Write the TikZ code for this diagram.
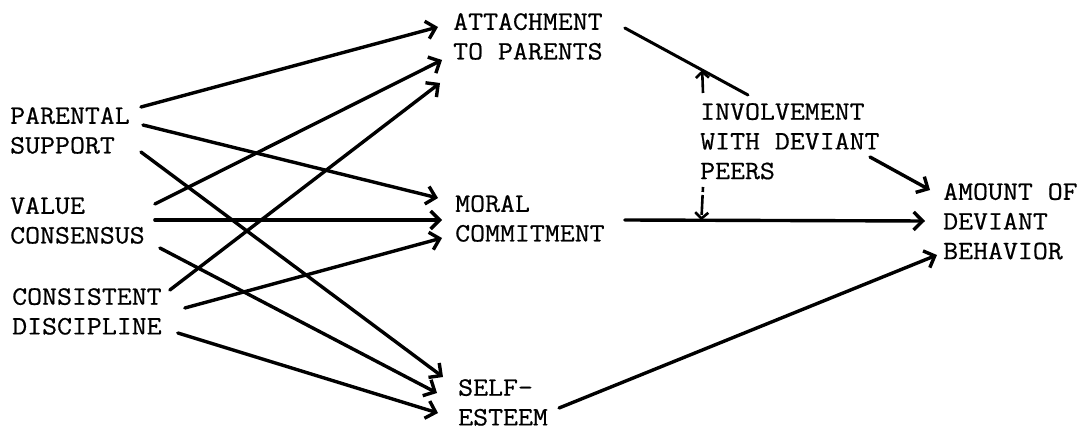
\documentclass[tikz,border=0pt]{standalone}
\usepackage{fontspec}
\newfontfamily\twfont[FakeStretch=1.095,FakeBold=0.6]{Latin Modern Mono}
\usetikzlibrary{arrows.meta}
\tikzset{
  lbl/.style={font=\twfont\fontsize{26.5}{29.7}\selectfont, align=left, inner sep=0pt, anchor=north west},
  arr/.style={line width=3.4pt, line cap=round, -{Straight Barb[length=9pt,width=18pt,line width=3.4pt]}},
  plainline/.style={line width=3pt, line cap=round},
  smallarr/.style={line width=2.6pt, -{Straight Barb[length=6pt,width=13pt,line width=2.6pt]}}
}
\begin{document}
\begin{tikzpicture}[x=1pt,y=-1pt]
\useasboundingbox (0,0) rectangle (1082,430);
% nodes
\node[lbl] (ps) at (10,107) {PARENTAL\\SUPPORT};
\node[lbl] (vc) at (10,197) {VALUE\\CONSENSUS};
\node[lbl] (cd) at (12,288) {CONSISTENT\\DISCIPLINE};
\node[lbl] (ap) at (453,13) {ATTACHMENT\\TO PARENTS};
\node[lbl] (mc) at (455,195) {MORAL\\COMMITMENT};
\node[lbl] (se) at (458,379) {SELF-\\ESTEEM};
\node[lbl] (inv) at (700,103) {INVOLVEMENT\\WITH DEVIANT\\PEERS};
\node[lbl] (amt) at (943,183) {AMOUNT OF\\DEVIANT\\BEHAVIOR};
% left-side arrows
\draw[arr] ([shift={(11,0)}]ps.north east) -- ([shift={(-15,14)}]ap.north west);
\draw[arr] ([shift={(13,18)}]ps.north east) -- ([shift={(-17,3)}]mc.north west);
\draw[arr] ([shift={(11,45)}]ps.north east) -- ([shift={(-15,-2)}]se.north west);
\draw[arr] ([shift={(10,7)}]vc.north east) -- ([shift={(-11,47)}]ap.north west);
\draw[arr] ([shift={(10,23)}]vc.north east) -- ([shift={(-13,25)}]mc.north west);
\draw[arr] ([shift={(15,51)}]vc.north east) -- ([shift={(-21,14)}]se.north west);
\draw[arr] ([shift={(8,2)}]cd.north east) -- ([shift={(-13,70)}]ap.north west);
\draw[arr] ([shift={(23,20)}]cd.north east) -- ([shift={(-13,43)}]mc.north west);
\draw[arr] ([shift={(16,45)}]cd.north east) -- ([shift={(-20,34)}]se.north west);
% right side
\draw[plainline] ([shift={(22,15)}]ap.north east) -- coordinate[pos=0.628] (m1) ([shift={(48,-8)}]inv.north west);
\draw[arr] ([shift={(20,25)}]mc.north east) -- coordinate[pos=0.255] (m2) ([shift={(-18,38)}]amt.north west);
\draw[smallarr] ([shift={(3,-10)}]inv.north west) -- (m1);
\draw[smallarr, dash pattern=on 5pt off 3pt on 20pt] ([shift={(3,84)}]inv.north west) -- (m2);
\draw[arr] ([shift={(170,54)}]inv.north west) -- ([shift={(-13,7)}]amt.north west);
\draw[arr] ([shift={(11,29)}]se.north east) -- ([shift={(-6,72)}]amt.north west);
\end{tikzpicture}
\end{document}
